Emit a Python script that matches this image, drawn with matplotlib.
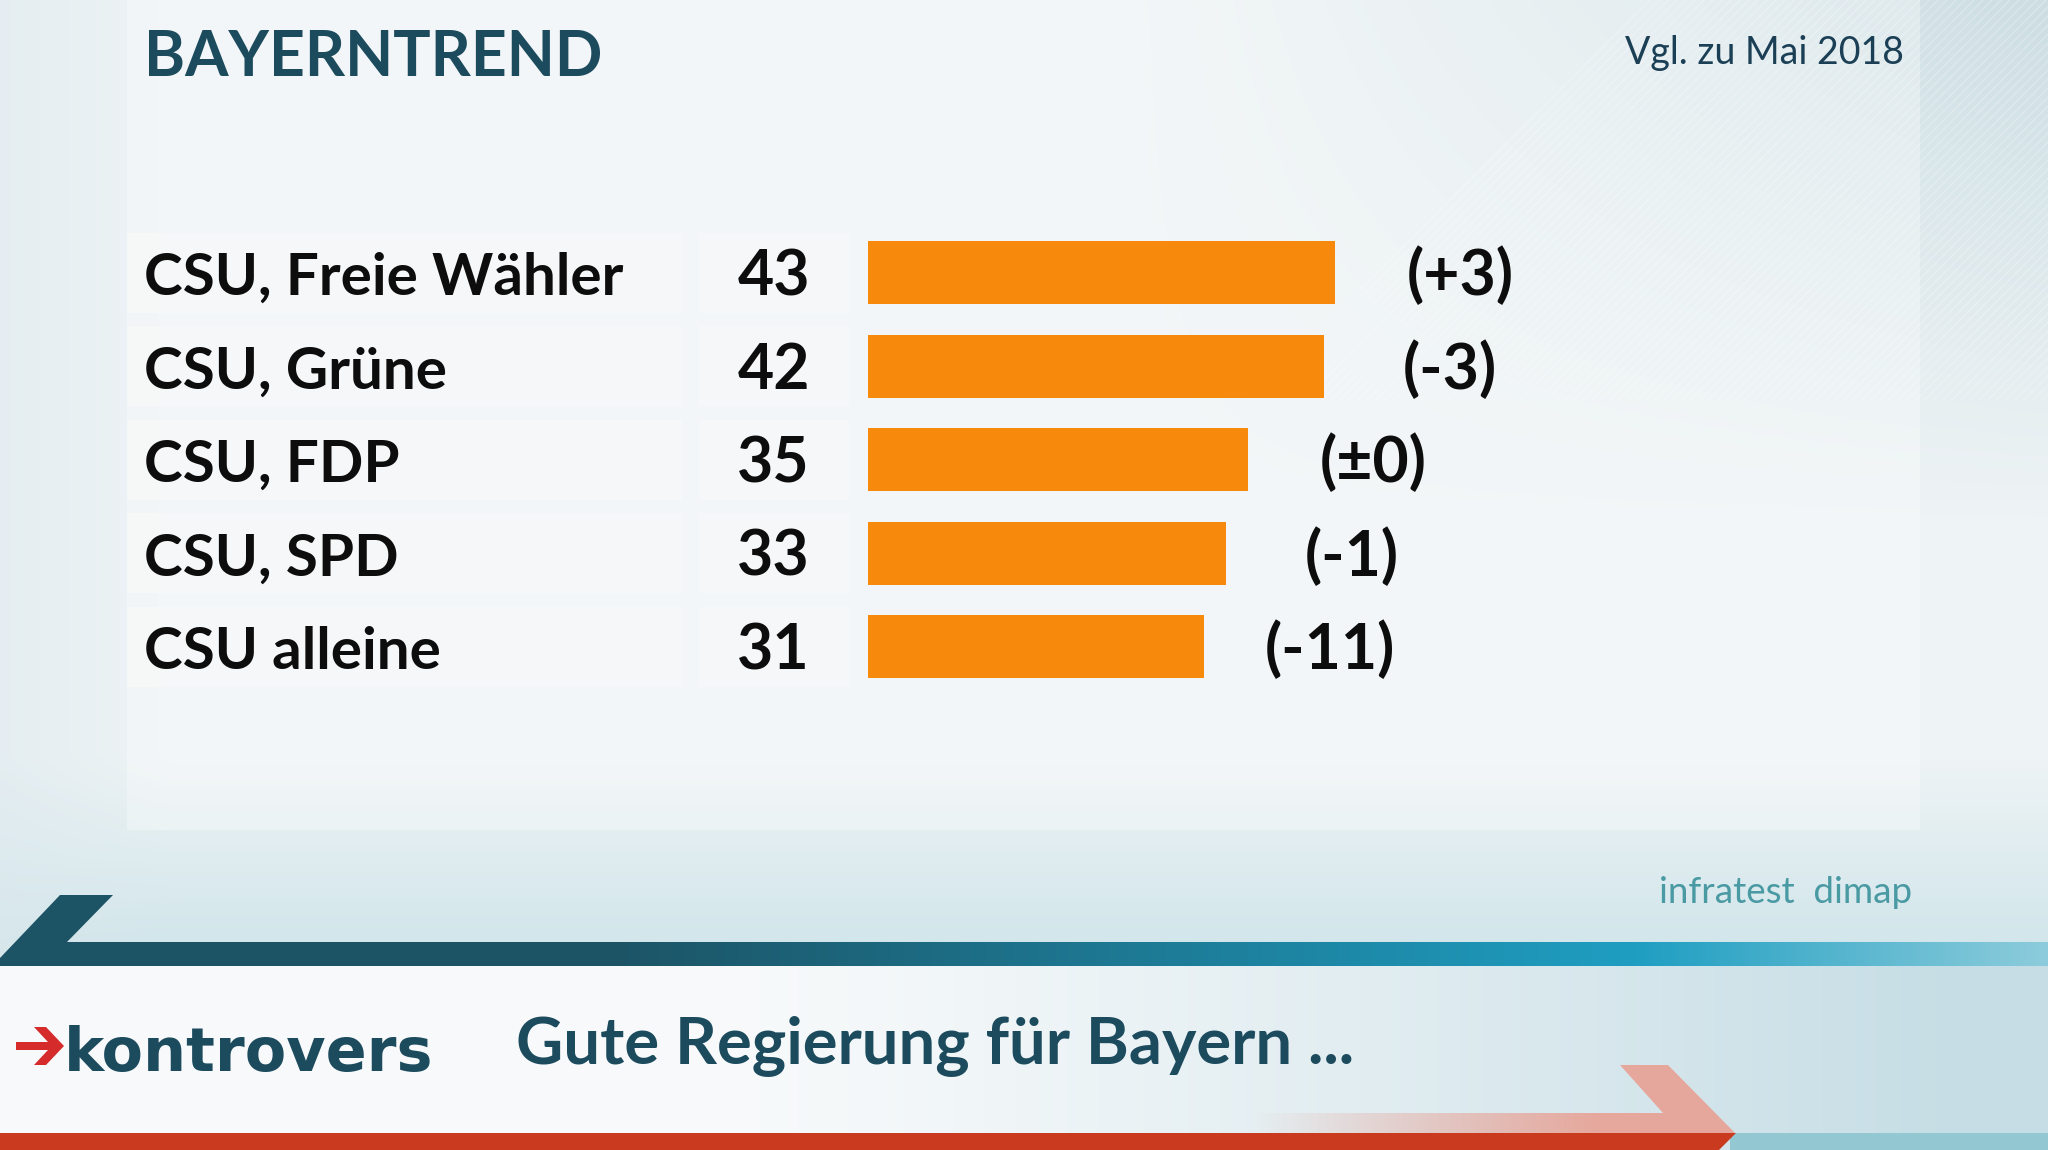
import numpy as np
import matplotlib
matplotlib.use('Agg')
import matplotlib.pyplot as plt
from matplotlib.patches import Polygon, Rectangle
from matplotlib import transforms

coalitions = ['CSU, Freie Wähler', 'CSU, Grüne', 'CSU, FDP', 'CSU, SPD', 'CSU alleine']
shares = [43, 42, 35, 33, 31]
changes = ['(+3)', '(-3)', '(±0)', '(-1)', '(-11)']

title = 'BAYERNTREND'
compare_note = 'Vgl. zu Mai 2018'
source = 'infratest  dimap'
question = 'Gute Regierung für Bayern ...'
show_name = 'kontrovers'

orange = '#f7890c'
teal_dark = '#1c4b5e'
font = 'Lato'

W, H = 2048, 1150
fig = plt.figure(figsize=(W / 100, H / 100), dpi=100)

# background layer in pixel coordinates
bg = fig.add_axes([0, 0, 1, 1])
bg.set_xlim(0, W)
bg.set_ylim(H, 0)
bg.axis('off')

gx, gy = np.meshgrid(np.linspace(0, 1, 256), np.linspace(0, 1, 144))
base = np.array([0.935, 0.955, 0.962])
top_right = np.array([0.80, 0.87, 0.89])
low = np.array([0.82, 0.90, 0.92])
w_tr = np.clip((gx - 0.55) * 2.2, 0, 1) * np.clip(1 - gy * 2.2, 0, 1)
w_low = np.clip((gy - 0.66) * 6, 0, 1)
w_left = np.clip(1 - gx * 12, 0, 1) * 0.5
img = base[None, None, :] * np.ones((144, 256, 1))
img = img * (1 - w_tr[..., None]) + top_right * w_tr[..., None]
img = img * (1 - w_low[..., None]) + low * w_low[..., None]
img = img * (1 - w_left[..., None]) + np.array([0.86, 0.91, 0.93]) * w_left[..., None]
bg.imshow(img, extent=(0, W, H, 0), aspect='auto', interpolation='bilinear', zorder=0)

# faint diagonal stripes in the upper right
for k in range(0, 1400, 9):
    bg.plot([1250 + k, 1250 + k + 400], [400, 0], color='white', lw=1.0, alpha=0.25, zorder=1)

# light content panel
bg.add_patch(Rectangle((127, 0), 1793, 830, facecolor='white', alpha=0.3, edgecolor='none', zorder=2))

# bottom white band with gradient (white on the left, blue-grey on the right)
t = np.linspace(0, 1, 256)
t = np.clip((t - 0.35) / 0.6, 0, 1) ** 1.2
band_img = np.array([0.972, 0.980, 0.984]) * (1 - t[:, None]) + np.array([0.78, 0.87, 0.90]) * t[:, None]
bg.imshow(np.repeat(band_img[None, :, :], 2, axis=0), extent=(0, W, 1133, 966), aspect='auto',
          interpolation='bilinear', zorder=3)

# teal stripe with slanted start
teal_poly = Polygon([(0, 958), (60, 895), (113, 895), (67, 942), (W, 942), (W, 966), (0, 966)],
                    closed=True, facecolor='none', edgecolor='none')
bg.add_patch(teal_poly)
tg = np.linspace(0, 1, 256)[None, :, None]
c1 = np.array([0.11, 0.33, 0.40])
c2 = np.array([0.12, 0.62, 0.76])
c3 = np.array([0.55, 0.80, 0.86])
s = np.clip((tg - 0.3) / 0.5, 0, 1)
teal_img = np.where(tg < 0.8, c1 * (1 - s) + c2 * s, c2 * (1 - (tg - 0.8) / 0.2) + c3 * ((tg - 0.8) / 0.2))
im = bg.imshow(np.repeat(teal_img, 2, axis=0), extent=(0, W, 966, 895), aspect='auto',
               interpolation='bilinear', zorder=4)
im.set_clip_path(teal_poly)

# pale arrow fading in from the left, red bottom stripe
arrow_poly = Polygon([(1250, 1113), (1663, 1113), (1620, 1065), (1668, 1065), (1736, 1134), (1250, 1134)],
                     closed=True, facecolor='none', edgecolor='none')
bg.add_patch(arrow_poly)
fade = np.clip((np.linspace(1250, 1736, 128) - 1250) / 350, 0, 1)
arrow_img = np.zeros((2, 128, 4))
arrow_img[..., :3] = [0.91, 0.63, 0.58]
arrow_img[..., 3] = fade[None, :] * 0.9
aim = bg.imshow(arrow_img, extent=(1250, 1736, 1134, 1065), aspect='auto',
                interpolation='bilinear', zorder=4)
aim.set_clip_path(arrow_poly)
bg.add_patch(Rectangle((1730, 1133), W - 1730, 17, facecolor='#93c7d2', edgecolor='none', zorder=4))
bg.add_patch(Polygon([(0, 1133), (1736, 1133), (1719, 1150), (0, 1150)], closed=True,
                     facecolor='#c93a1f', edgecolor='none', zorder=5))

# headers and footer text
bg.text(144, 76, title, fontsize=45, fontfamily=font, color=teal_dark, fontweight='bold',
        ha='left', va='baseline', zorder=6)
bg.text(1904, 64, compare_note, fontsize=27, fontfamily=font, color='#1b3f55',
        ha='right', va='baseline', zorder=6)
bg.text(1912, 903, source, fontsize=26.5, fontfamily=font, color='#4a9aa3',
        ha='right', va='baseline', zorder=6)
bg.text(516, 1064, question, fontsize=47, fontfamily=font, color=teal_dark, fontweight='bold',
        ha='left', va='baseline', zorder=6)

# kontrovers logo: red arrow + wordmark
bg.add_patch(Polygon([(16, 1042), (48, 1042), (34, 1027), (46, 1027), (64, 1046), (46, 1065),
                      (34, 1065), (48, 1050), (16, 1050)], closed=True, facecolor='#d52b2b',
                     edgecolor='none', zorder=6))
bg.text(64, 1071, show_name, fontsize=43.5, fontfamily='DejaVu Sans', color=teal_dark,
        fontweight='bold', ha='left', va='baseline', zorder=6)

# data axes: value 0 at x=868 px, 10.85 px per point, rows 93.5 px apart
x0_px, px_per_unit = 868, 10.85
xmax = 50
top_px, row_px = 226, 93.5
ax = fig.add_axes([x0_px / W, 1 - (top_px + row_px * len(shares)) / H,
                   xmax * px_per_unit / W, row_px * len(shares) / H])
ax.set_xlim(0, xmax)
ax.set_ylim(len(shares) - 0.5, -0.5)
ax.axis('off')
ax.patch.set_visible(False)

rows = np.arange(len(shares))
trans = transforms.blended_transform_factory(bg.transData, ax.transData)

for i, (lab, v, ch) in enumerate(zip(coalitions, shares, changes)):
    ax.add_patch(Rectangle((127, i - 0.43), 555, 0.86, transform=trans, facecolor='#f7f8f8',
                           edgecolor='none', alpha=0.85, clip_on=False, zorder=1))
    ax.add_patch(Rectangle((699, i - 0.43), 150, 0.86, transform=trans, facecolor='#f7f8f8',
                           edgecolor='none', alpha=0.85, clip_on=False, zorder=1))
    ax.text(144, i + 0.24, lab, transform=trans, fontsize=42, fontfamily=font,
            fontweight='bold', color='#0d0d0d', ha='left', va='baseline', zorder=3)
    ax.text(810, i + 0.24, str(v), transform=trans, fontsize=45, fontfamily=font,
            fontweight='bold', color='#0d0d0d', ha='right', va='baseline', zorder=3)
    ax.text(v + 11.6, i + 0.24, ch, fontsize=45, fontfamily=font, fontweight='bold',
            color='#0d0d0d', ha='center', va='baseline', zorder=3, clip_on=False)

ax.barh(rows, shares, height=0.675, color=orange, zorder=2)

fig.savefig('out.png', dpi=100)
